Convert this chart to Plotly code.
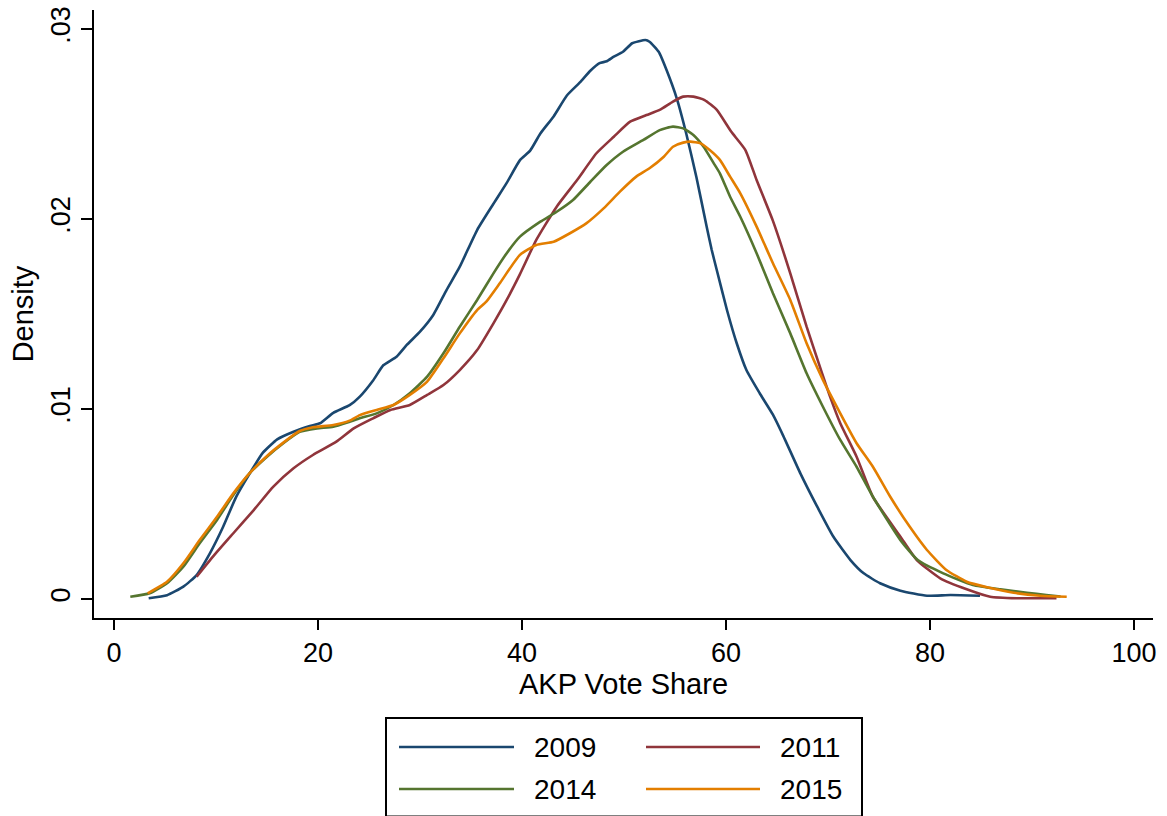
import plotly.graph_objects as go

# Kernel density estimates of AKP vote share by election year
years = ["2009", "2011", "2014", "2015"]
colors = ["#1a476f", "#90353b", "#55752f", "#e37e00"]

x_2009 = [3.4, 5.2, 6.8, 8.1, 9.4, 10.7, 12.0, 13.3, 14.6, 16.0, 17.6, 19.2, 20.2, 21.5, 23.1,
          24.1, 25.4, 26.4, 27.7, 28.7, 30.0, 31.3, 32.6, 33.9, 35.6, 37.2, 38.5, 39.8, 40.8,
          41.8, 43.1, 44.4, 45.7, 46.7, 47.6, 48.3, 49.0, 49.9, 50.8, 52.1, 52.5, 53.4, 54.2,
          55.2, 56.1, 57.1, 58.1, 58.6, 59.1, 60.1, 61.05, 62.0, 63.3, 64.6, 65.6, 67.3, 68.9,
          70.5, 72.2, 73.5, 75.1, 77.1, 79.7, 82.0, 84.9]
y_2009 = [0.00004, 0.0002, 0.00065, 0.00126, 0.0024, 0.0038, 0.0054, 0.0066, 0.0077, 0.0084,
          0.0088, 0.0091, 0.00925, 0.0098, 0.0102, 0.01065, 0.0115, 0.0123, 0.01275, 0.01337,
          0.01407, 0.01495, 0.01626, 0.01749, 0.01942, 0.0208, 0.0219, 0.0231, 0.0236, 0.0245,
          0.0254, 0.0265, 0.0272, 0.0278, 0.0282, 0.0283, 0.02854, 0.0288, 0.02925, 0.02942,
          0.02933, 0.0288, 0.0278, 0.0263, 0.0245, 0.0222, 0.0196, 0.01837, 0.0173, 0.0152,
          0.01346, 0.01205, 0.01083, 0.0097, 0.0086, 0.0066, 0.0049, 0.0033, 0.00205, 0.00135,
          0.00083, 0.00044, 0.00017, 0.00021, 0.00017]

x_2011 = [8.1, 9.7, 11.7, 13.7, 15.6, 17.6, 19.5, 21.8, 23.5, 25.4, 27.1, 29.0, 30.7, 32.3,
          33.9, 35.6, 37.2, 38.5, 39.8, 41.4, 43.4, 45.4, 47.3, 49.0, 50.6, 52.2, 53.5, 54.8,
          55.8, 56.8, 57.9, 59.1, 60.5, 61.9, 63.0, 64.6, 66.3, 67.9, 69.2, 70.2, 71.2, 72.8,
          74.4, 77.1, 78.7, 81.0, 83.6, 85.9, 88.5, 92.4]
y_2011 = [0.00117, 0.00223, 0.00346, 0.00468, 0.0059, 0.00688, 0.00758, 0.00828, 0.00898,
          0.00951, 0.00995, 0.01021, 0.01074, 0.01126, 0.01205, 0.0131, 0.01451, 0.01574,
          0.0171, 0.0189, 0.02065, 0.02205, 0.02346, 0.02433, 0.02512, 0.02547, 0.02574,
          0.02618, 0.02644, 0.02644, 0.02626, 0.02574, 0.0246, 0.02363, 0.02205, 0.0199,
          0.01714, 0.01433, 0.01223, 0.01065, 0.00925, 0.00749, 0.00538, 0.00328, 0.00205,
          0.00109, 0.00051, 0.00012, 0.00004, 0.00004]

x_2014 = [1.6, 3.5, 5.2, 6.8, 8.4, 10.1, 11.7, 13.3, 15.0, 16.6, 18.2, 19.9, 21.5, 23.1, 24.1,
          25.75, 27.4, 29.0, 30.7, 32.3, 33.9, 35.6, 37.2, 38.5, 39.8, 41.8, 43.4, 45.0, 46.7,
          48.3, 49.9, 51.9, 53.5, 54.8, 55.8, 56.8, 57.8, 58.8, 59.4, 60.4, 61.4, 63.0, 64.6,
          66.3, 67.9, 69.5, 71.2, 72.8, 74.4, 77.1, 78.8, 81.3, 84.2, 86.9, 89.5, 91.4, 92.8]
y_2014 = [0.00012, 0.0003, 0.00083, 0.0017, 0.00293, 0.00416, 0.00547, 0.00662, 0.00749,
          0.0082, 0.0088, 0.00898, 0.00907, 0.00933, 0.00951, 0.00977, 0.01021, 0.01083,
          0.0117, 0.01293, 0.01433, 0.01574, 0.01714, 0.0182, 0.01907, 0.01986, 0.02038,
          0.021, 0.02196, 0.02284, 0.02354, 0.02416, 0.02468, 0.02486, 0.02477, 0.02442,
          0.0238, 0.02293, 0.0224, 0.02117, 0.02012, 0.0182, 0.01609, 0.01398, 0.01188,
          0.01012, 0.00837, 0.00696, 0.00538, 0.0031, 0.00205, 0.00135, 0.00074, 0.00051,
          0.00033, 0.00021, 0.00013]

x_2015 = [3.3, 5.2, 6.8, 8.4, 10.1, 11.7, 13.3, 15.0, 16.6, 18.2, 19.5, 21.5, 23.1, 24.1, 25.75,
          27.4, 29.0, 30.7, 32.3, 33.9, 35.6, 36.5, 37.8, 39.8, 41.4, 43.1, 44.7, 46.3, 48.0,
          49.6, 51.2, 52.5, 53.9, 54.8, 55.8, 56.5, 57.5, 58.4, 59.4, 60.4, 61.4, 63.0, 64.6,
          66.3, 67.9, 69.5, 71.2, 72.8, 74.4, 76.1, 78.0, 79.7, 81.6, 83.6, 85.6, 88.2, 90.8,
          93.4]
y_2015 = [0.0003, 0.00091, 0.00188, 0.0031, 0.00433, 0.00556, 0.00662, 0.00753, 0.00823,
          0.00884, 0.00904, 0.00916, 0.00939, 0.00968, 0.00995, 0.01021, 0.01074, 0.01144,
          0.01267, 0.01398, 0.01521, 0.01565, 0.0166, 0.01811, 0.01863, 0.0188, 0.01925,
          0.01977, 0.02056, 0.02144, 0.02223, 0.02267, 0.02328, 0.0238, 0.02402, 0.02407,
          0.02398, 0.02363, 0.02311, 0.02223, 0.02135, 0.0196, 0.01767, 0.01574, 0.01346,
          0.01153, 0.00977, 0.0082, 0.00696, 0.00538, 0.00381, 0.00258, 0.00153, 0.00091,
          0.00062, 0.00033, 0.00017, 0.00012]

x_ticks = [0, 20, 40, 60, 80, 100]
y_ticks = [0, 0.01, 0.02, 0.03]
y_tick_labels = ["0", ".01", ".02", ".03"]

series_x = [x_2009, x_2011, x_2014, x_2015]
series_y = [y_2009, y_2011, y_2014, y_2015]

FONT = "Liberation Sans, Arial, Helvetica, sans-serif"
W, H = 1167, 816
ML, MR, MT, MB = 94, 14, 10, 198
PW, PH = W - ML - MR, H - MT - MB

fig = go.Figure()
for name, xs, ys, col in zip(years, series_x, series_y, colors):
    fig.add_trace(go.Scatter(
        x=xs, y=ys, mode="lines", name=name,
        line=dict(color=col, width=2.6, shape="spline", smoothing=0.5),
        showlegend=False,
    ))


def px_x(p):
    return (p - ML) / PW


def px_y(p):
    return (H - MB - p) / PH


# Legend box drawn below the plot, two columns
shapes = [dict(type="rect", xref="paper", yref="paper",
               x0=px_x(386), x1=px_x(862), y0=px_y(816.5), y1=px_y(718),
               line=dict(color="black", width=2), fillcolor="white", layer="above")]
annotations = []
slots = [(399, 514, 532, 747), (646, 760, 778, 747), (399, 514, 532, 789), (646, 760, 778, 789)]
for name, col, (lx0, lx1, tx, ty) in zip(years, colors, slots):
    shapes.append(dict(type="line", xref="paper", yref="paper",
                       x0=px_x(lx0), x1=px_x(lx1), y0=px_y(ty), y1=px_y(ty),
                       line=dict(color=col, width=2.6), layer="above"))
    annotations.append(dict(xref="paper", yref="paper", x=px_x(tx), y=px_y(ty),
                            text=name, showarrow=False, xanchor="left", yanchor="middle",
                            font=dict(family=FONT, size=28, color="black")))

fig.update_layout(
    width=W, height=H,
    margin=dict(l=ML, r=MR, t=MT, b=MB, autoexpand=False),
    paper_bgcolor="white", plot_bgcolor="white",
    font=dict(family=FONT, color="black"),
    shapes=shapes, annotations=annotations,
    xaxis=dict(
        range=[-1.96, 101.86], tickvals=x_ticks,
        ticks="outside", ticklen=10, tickwidth=1.7, tickcolor="black",
        showline=True, linewidth=1.7, linecolor="black",
        showgrid=False, zeroline=False,
        tickfont=dict(family=FONT, size=27, color="black"),
        title=dict(text="AKP Vote Share", font=dict(family=FONT, size=29, color="black"),
                   standoff=2),
        automargin=False,
    ),
    yaxis=dict(
        range=[-0.001, 0.031], tickvals=y_ticks, ticktext=y_tick_labels,
        tickangle=-90,
        ticks="outside", ticklen=11, tickwidth=1.7, tickcolor="black",
        showline=True, linewidth=1.7, linecolor="black",
        showgrid=False, zeroline=False,
        tickfont=dict(family=FONT, size=27, color="black"),
        title=dict(text="Density", font=dict(family=FONT, size=29, color="black"),
                   standoff=4),
        automargin=False,
    ),
)

fig.write_html("out.html")
